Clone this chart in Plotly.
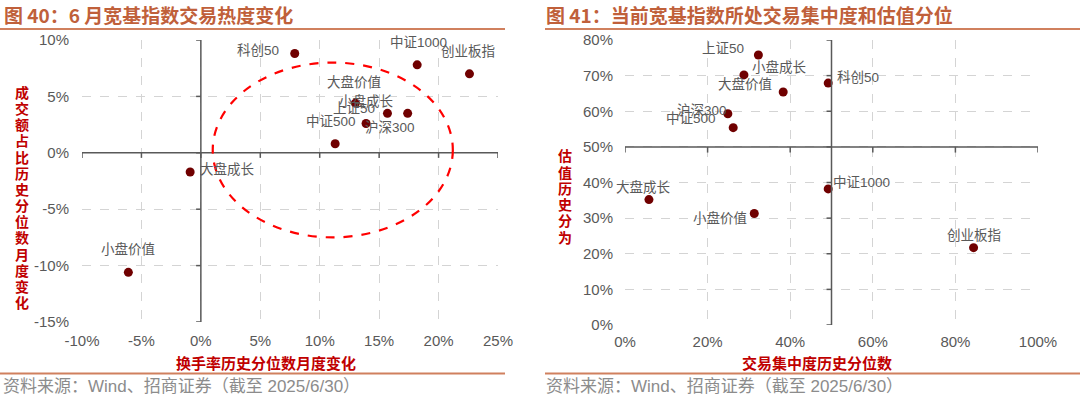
import plotly.graph_objects as go

# ---------------- data ----------------
left_names = ["科创50", "中证1000", "创业板指", "大盘价值", "小盘成长", "沪深300", "上证50", "中证500", "大盘成长", "小盘价值"]
left_turnover_chg = [7.9, 18.2, 22.6, 13.0, 15.7, 17.4, 13.9, 11.3, -0.9, -6.1]
left_amount_chg = [8.8, 7.8, 7.0, 4.4, 3.5, 3.5, 2.6, 0.8, -1.7, -10.6]

right_names = ["上证50", "小盘成长", "大盘价值", "科创50", "沪深300", "中证500", "大盘成长", "小盘价值", "中证1000", "创业板指"]
right_concentration = [32.3, 28.8, 38.3, 49.2, 24.9, 26.2, 5.8, 31.3, 49.2, 84.4]
right_valuation = [75.8, 70.2, 65.4, 67.9, 59.3, 55.4, 35.2, 31.3, 38.2, 21.7]

left_xticks = [-10, -5, 0, 5, 10, 15, 20, 25]
left_yticks = [-15, -10, -5, 0, 5, 10]
right_xticks = [0, 20, 40, 60, 80, 100]
right_yticks = [0, 10, 20, 30, 40, 50, 60, 70, 80]

# label offsets (pixels) for each point
left_shift = [(-37, 3), (1, 22), (-1, 22), (-1, 21), (-21, 12), (-18, -14), (-12, 15), (-4, 22), (37, 3), (0, 23)]
right_shift = [(-35, 6), (36, 8), (-38, 8), (30, 6), (-26, 3), (-42, 9), (-5, 13), (-34, -5), (33, 6), (0, 12)]

W, H = 1080, 398
DOT = "#700000"
GRAY = "#595959"
RED = "#C00000"
TITLE = "#C0603A"
LINE = "#D0805E"
FONT_NUM = "Liberation Sans, Arial, Noto Sans CJK SC"
FONT_CJK = "Noto Sans CJK SC"

fig = go.Figure()
fig.add_trace(go.Scatter(x=left_turnover_chg, y=left_amount_chg, mode="markers",
                         marker=dict(color=DOT, size=9), xaxis="x", yaxis="y",
                         hoverinfo="skip", showlegend=False))
fig.add_trace(go.Scatter(x=right_concentration, y=right_valuation, mode="markers",
                         marker=dict(color=DOT, size=9), xaxis="x2", yaxis="y2",
                         hoverinfo="skip", showlegend=False))

annotations = []
for n, x, y, (dx, dy) in zip(left_names, left_turnover_chg, left_amount_chg, left_shift):
    annotations.append(dict(x=x, y=y, xref="x", yref="y", text=n, showarrow=False,
                            xshift=dx, yshift=dy, font=dict(size=13.5, color=GRAY, family=FONT_NUM)))
for n, x, y, (dx, dy) in zip(right_names, right_concentration, right_valuation, right_shift):
    annotations.append(dict(x=x, y=y, xref="x2", yref="y2", text=n, showarrow=False,
                            xshift=dx, yshift=dy, font=dict(size=13.5, color=GRAY, family=FONT_NUM)))

def px_x(p):
    return p / W

def px_y(p):
    return 1 - p / H

# titles
annotations.append(dict(x=px_x(2), y=px_y(15), xref="paper", yref="paper", xanchor="left", yanchor="middle",
                        text="<b>图 40：6 月宽基指数交易热度变化</b>", showarrow=False,
                        font=dict(size=19, color=TITLE, family=FONT_CJK)))
annotations.append(dict(x=px_x(544), y=px_y(15), xref="paper", yref="paper", xanchor="left", yanchor="middle",
                        text="<b>图 41：当前宽基指数所处交易集中度和估值分位</b>", showarrow=False,
                        font=dict(size=19, color=TITLE, family=FONT_CJK)))
# footnotes
for x0 in (1, 544):
    annotations.append(dict(x=px_x(x0), y=px_y(386), xref="paper", yref="paper", xanchor="left", yanchor="middle",
                            text="资料来源：Wind、招商证券（截至 2025/6/30）", showarrow=False,
                            font=dict(size=17, color="#8C8C8C", family=FONT_NUM)))
# axis titles
annotations.append(dict(x=px_x(266), y=px_y(362), xref="paper", yref="paper", xanchor="center", yanchor="middle",
                        text="<b>换手率历史分位数月度变化</b>", showarrow=False,
                        font=dict(size=15, color=RED, family=FONT_CJK)))
annotations.append(dict(x=px_x(817), y=px_y(362), xref="paper", yref="paper", xanchor="center", yanchor="middle",
                        text="<b>交易集中度历史分位数</b>", showarrow=False,
                        font=dict(size=15, color=RED, family=FONT_CJK)))

def vertical_title(text, xc, yc, step=16.2):
    n = len(text)
    y0 = yc - (n - 1) * step / 2
    for i, ch in enumerate(text):
        annotations.append(dict(x=px_x(xc), y=px_y(y0 + i * step), xref="paper", yref="paper",
                                xanchor="center", yanchor="middle", text="<b>" + ch + "</b>", showarrow=False,
                                font=dict(size=14, color=RED, family=FONT_CJK)))

vertical_title("成交额占比历史分位数月度变化", 22, 197)
vertical_title("估值历史分为", 565, 196)

shapes = []
# title / footer rules
for (a, b) in ((0, 505), (545, 1080)):
    shapes.append(dict(type="line", xref="paper", yref="paper", x0=px_x(a), x1=px_x(b),
                       y0=px_y(29), y1=px_y(29), line=dict(color=LINE, width=2)))
    shapes.append(dict(type="line", xref="paper", yref="paper", x0=px_x(a), x1=px_x(b),
                       y0=px_y(373.5), y1=px_y(373.5), line=dict(color=LINE, width=2)))

AX = "#595959"
# left chart crossing axes at 0,0
shapes.append(dict(type="line", xref="x", yref="y", x0=0, x1=0, y0=left_yticks[0], y1=left_yticks[-1],
                   line=dict(color=AX, width=1.5)))
shapes.append(dict(type="line", xref="x", yref="y", x0=left_xticks[0], x1=left_xticks[-1], y0=0, y1=0,
                   line=dict(color=AX, width=1.5)))
for t in left_yticks:
    shapes.append(dict(type="line", xref="x", yref="y", x0=-0.4, x1=0, y0=t, y1=t, line=dict(color=AX, width=1.5)))
for t in left_xticks:
    shapes.append(dict(type="line", xref="x", yref="y", x0=t, x1=t, y0=-0.45, y1=0, line=dict(color=AX, width=1.5)))
# right chart crossing axes at 50%,50%
shapes.append(dict(type="line", xref="x2", yref="y2", x0=50, x1=50, y0=right_yticks[0], y1=right_yticks[-1],
                   line=dict(color=AX, width=1.5)))
shapes.append(dict(type="line", xref="x2", yref="y2", x0=right_xticks[0], x1=right_xticks[-1], y0=50, y1=50,
                   line=dict(color=AX, width=1.5)))
for t in right_yticks:
    shapes.append(dict(type="line", xref="x2", yref="y2", x0=48.8, x1=50, y0=t, y1=t, line=dict(color=AX, width=1.5)))
for t in right_xticks:
    shapes.append(dict(type="line", xref="x2", yref="y2", x0=t, x1=t, y0=48.4, y1=50, line=dict(color=AX, width=1.5)))
# dashed ellipse highlight
shapes.append(dict(type="circle", xref="x", yref="y", x0=1.0, x1=21.2, y0=-7.5, y1=8.0,
                   line=dict(color="#FF0000", width=2.2, dash="dash")))

grid = dict(showgrid=True, gridcolor="#D4D4D4", griddash="dash", gridwidth=1, zeroline=False,
            showline=False, ticks="", automargin=False,
            tickfont=dict(size=15, color=GRAY, family=FONT_NUM))

fig.update_layout(
    width=W, height=H, margin=dict(l=0, r=0, t=0, b=0, autoexpand=False),
    paper_bgcolor="white", plot_bgcolor="white", showlegend=False,
    xaxis=dict(domain=[px_x(82), px_x(498)], range=[-10, 25], tickvals=left_xticks,
               ticktext=[f"{v}%" for v in left_xticks], anchor="y", ticklabelstandoff=8, **grid),
    yaxis=dict(domain=[px_y(322), px_y(40)], range=[-15, 10], tickvals=left_yticks,
               ticktext=[f"{v}%" for v in left_yticks], anchor="x", ticklabelstandoff=12, **grid),
    xaxis2=dict(domain=[px_x(625), px_x(1038)], range=[0, 100], tickvals=right_xticks,
                ticktext=[f"{v}%" for v in right_xticks], anchor="y2", ticklabelstandoff=6, **grid),
    yaxis2=dict(domain=[px_y(325), px_y(40)], range=[0, 80], tickvals=right_yticks,
                ticktext=[f"{v}%" for v in right_yticks], anchor="x2", ticklabelstandoff=11, **grid),
    annotations=annotations, shapes=shapes,
)

fig.write_html("out.html", config={"displayModeBar": False},
               post_script="document.body.style.margin='0';document.body.style.overflow='hidden';")
